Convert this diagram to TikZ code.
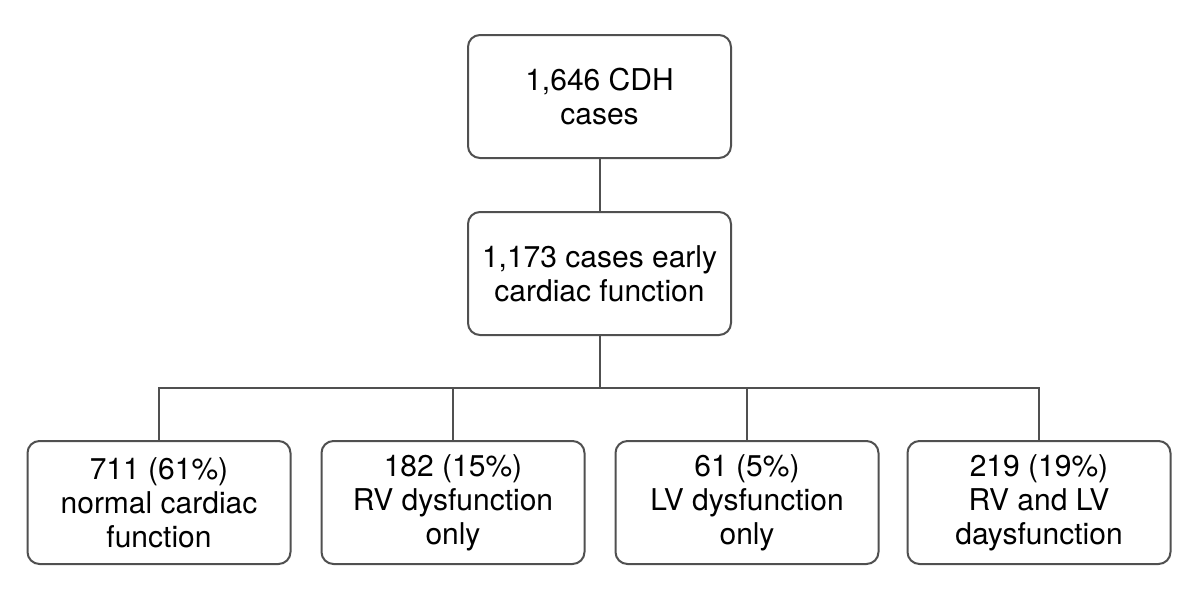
\documentclass[tikz,border=0pt]{standalone}
\usepackage{fontspec}
\setmainfont{TeX Gyre Heros}
\begin{document}
\begin{tikzpicture}[x=0.5pt,y=-0.5pt,
  box/.style={draw=linegray, line width=1pt, rounded corners=6pt, align=center,
    minimum width=131.5pt, minimum height=61.5pt, inner sep=0pt,
    font=\fontsize{15}{17}\selectfont, text=black},
  conn/.style={draw=linegray, line width=1pt}]
\definecolor{linegray}{HTML}{505050}
\useasboundingbox (0,0) rectangle (1200,600);
\node[box] (top) at (599.5,96.5) {1,646 CDH\\cases};
\node[box] (mid) at (599.5,273.5) {1,173 cases early\\cardiac function};
\node[box] (b1) at (159,502.5) {711 (61\%)\\normal cardiac\\function};
\node[box] (b2) at (453,502.5) {182 (15\%)\\RV dysfunction\\only};
\node[box] (b3) at (747,502.5) {61 (5\%)\\LV dysfunction\\only};
\node[box] (b4) at (1039,502.5) {219 (19\%)\\RV and LV\\daysfunction};
\coordinate (j) at (599.5,388);
\draw[conn] (top.south) -- (mid.north);
\draw[conn] (mid.south) -- (j);
\foreach \b in {b1,b2,b3,b4} \draw[conn] (\b.north) |- (j);
\end{tikzpicture}
\end{document}
